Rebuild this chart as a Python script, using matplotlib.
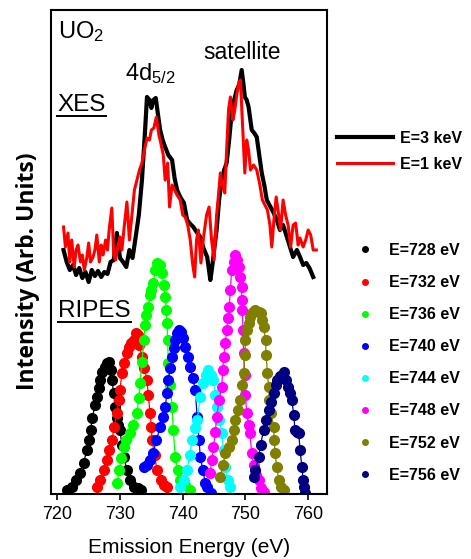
import numpy as np
import matplotlib.pyplot as plt
from matplotlib.lines import Line2D

plt.rcParams['font.family'] = 'Liberation Sans'
plt.rcParams['mathtext.fontset'] = 'custom'
plt.rcParams['mathtext.rm'] = 'Liberation Sans'
plt.rcParams['mathtext.it'] = 'Liberation Sans:italic'

##############################
# XES spectra (emission energy in eV, intensity in arb. units)
xes_e_3kev = [721.0, 721.5, 722.0, 722.5, 723.0, 723.5, 724.0, 724.5, 725.0, 725.5,
              726.0, 726.5, 727.0, 727.5, 728.0, 728.5, 729.0, 729.5, 730.0, 730.5,
              731.0, 731.5, 732.0, 732.5, 733.0, 733.5, 734.0, 734.3, 734.7, 735.0,
              735.3, 735.7, 736.0, 736.4, 736.8, 737.2, 737.7, 738.3, 738.7, 739.1,
              739.6, 740.2, 740.7, 741.2, 741.7, 742.2, 742.8, 743.3, 743.9, 744.4,
              744.7, 745.0, 745.4, 745.8, 746.2, 746.6, 747.0, 747.4, 747.8, 748.2,
              748.6, 749.0, 749.4, 749.7, 749.9, 750.2, 750.5, 751.0, 751.4, 751.8,
              752.2, 752.6, 753.0, 753.4, 754.0, 754.5, 755.0, 755.5, 756.0, 756.6,
              757.0, 757.6, 758.2, 758.7, 759.2, 759.7, 760.2, 760.8]
xes_i_3kev = [244, 232, 224, 229, 219, 226, 216, 222, 212, 224,
              218, 223, 217, 222, 220, 232, 234, 261, 236, 232,
              227, 244, 236, 257, 279, 314, 364, 397, 394, 386,
              394, 396, 382, 364, 354, 347, 339, 334, 316, 304,
              297, 291, 274, 270, 267, 262, 257, 246, 237, 214,
              227, 244, 264, 294, 314, 324, 331, 354, 381, 394,
              404, 409, 424, 409, 397, 394, 387, 364, 361, 357,
              339, 321, 309, 294, 287, 281, 274, 264, 269, 257,
              249, 237, 244, 237, 229, 231, 226, 217]

xes_e_1kev = [721.0, 721.3, 721.7, 722.0, 722.3, 722.7, 723.0, 723.3, 723.7, 724.0,
              724.3, 724.7, 725.0, 725.3, 725.7, 726.0, 726.3, 726.7, 727.0, 727.3,
              727.7, 728.0, 728.3, 728.7, 729.0, 729.3, 729.7, 730.0, 730.3, 730.7,
              731.1, 731.5, 731.9, 732.3, 732.7, 733.1, 733.5, 733.9, 734.3, 734.7,
              735.0, 735.4, 735.8, 736.2, 736.5, 736.9, 737.2, 737.6, 737.9, 738.3,
              738.7, 739.1, 739.6, 740.0, 740.4, 740.8, 741.2, 741.6, 741.9, 742.2,
              742.5, 742.9, 743.3, 743.8, 744.2, 744.6, 745.0, 745.4, 745.7, 746.0,
              746.3, 746.7, 747.0, 747.3, 747.6, 748.0, 748.3, 748.6, 748.9, 749.2,
              749.5, 749.9, 750.2, 750.5, 750.8, 751.3, 751.8, 752.3, 752.7, 753.1,
              753.5, 753.9, 754.2, 754.6, 754.9, 755.3, 755.6, 756.0, 756.4, 756.8,
              757.2, 757.6, 758.0, 758.4, 758.7, 759.2, 759.6, 760.0, 760.4, 760.8,
              761.3]
xes_i_1kev = [267, 247, 261, 232, 254, 227, 244, 249, 232, 239,
              224, 236, 251, 232, 237, 244, 259, 232, 249, 239,
              254, 244, 266, 286, 239, 234, 249, 257, 244, 269,
              292, 254, 279, 304, 314, 324, 331, 344, 356, 354,
              364, 366, 377, 359, 351, 339, 314, 331, 287, 309,
              304, 299, 294, 279, 277, 269, 254, 229, 217, 254,
              264, 231, 256, 279, 287, 254, 234, 279, 299, 321,
              309, 301, 344, 384, 397, 374, 384, 399, 411, 414,
              374, 321, 354, 344, 324, 329, 324, 309, 294, 289,
              284, 269, 247, 279, 297, 279, 264, 294, 279, 269,
              247, 269, 271, 249, 256, 247, 254, 264, 259, 244,
              244]

# RIPES spectra, one per incident energy
ripes_labels = ['E=728 eV', 'E=732 eV', 'E=736 eV', 'E=740 eV',
                'E=744 eV', 'E=748 eV', 'E=752 eV', 'E=756 eV']
ripes_colors = ['#000000', '#ff0000', '#00ff00', '#0000ff',
                '#00ffff', '#ff00ff', '#808000', '#000080']

ripes_e_728 = [721.5, 722.3, 723.0, 723.6, 724.2, 724.7, 725.0, 725.3, 725.6, 726.0, 726.3,
               726.6, 726.8, 727.2, 727.6, 727.9, 728.2, 728.5, 728.7, 729.0, 729.2, 729.5,
               729.7, 730.0, 730.3, 730.6, 731.1, 731.6, 732.2, 732.8, 733.4]
ripes_i_728 = [4, 7, 14, 21, 31, 44, 54, 64, 76, 89, 97,
               106, 114, 122, 127, 131, 132, 124, 114, 101, 87, 76,
               69, 64, 49, 37, 24, 14, 7, 6, 4]

ripes_e_732 = [726.3, 726.8, 727.4, 727.9, 728.3, 728.7, 729.1, 729.5, 729.8, 730.0, 730.3,
               730.7, 731.1, 731.5, 731.8, 732.2, 732.5, 732.8, 733.1, 733.5, 733.9, 734.3,
               734.5, 734.8, 735.0, 735.1, 735.5, 735.9, 736.5, 737.0, 737.5]
ripes_i_732 = [7, 14, 24, 34, 44, 54, 67, 81, 94, 104, 121,
               131, 141, 147, 151, 154, 161, 159, 149, 137, 126, 114,
               99, 81, 67, 54, 39, 24, 14, 9, 7]

ripes_e_736 = [729.5, 729.9, 730.2, 730.6, 731.0, 731.6, 732.1, 732.7, 733.0, 733.2, 733.5,
               733.8, 734.0, 734.2, 734.5, 734.8, 735.0, 735.3, 735.6, 735.9, 736.3, 736.7,
               737.0, 737.2, 737.4, 737.5, 737.6, 737.7, 738.0, 738.3, 738.5, 738.8,
               739.2, 739.6, 740.3, 741.2]
ripes_i_736 = [11, 24, 36, 47, 54, 61, 69, 81, 96, 111, 132,
               154, 169, 179, 187, 199, 204, 211, 224, 231, 229, 221,
               209, 197, 184, 171, 154, 131, 109, 87, 64, 37,
               24, 14, 9, 4]

ripes_e_740 = [733.8, 734.3, 734.8, 735.3, 735.8, 736.4, 736.8, 737.2, 737.5, 737.7, 738.0,
               738.3, 738.6, 738.8, 739.1, 739.4, 739.7, 740.0, 740.4, 740.8, 741.2, 741.6,
               742.0, 742.3, 742.6, 742.8, 743.2, 743.6, 743.9, 744.5]
ripes_i_740 = [27, 29, 34, 41, 54, 67, 77, 87, 101, 114, 126,
               137, 146, 154, 161, 164, 162, 156, 147, 137, 127, 116,
               104, 77, 54, 37, 24, 11, 7, 1]

ripes_e_744 = [739.6, 740.2, 740.7, 741.1, 741.5, 741.9, 742.3, 742.8, 743.3, 743.7, 744.1,
               744.5, 744.9, 745.2, 745.4, 745.8, 746.2, 746.5, 746.8, 747.2, 747.6]
ripes_i_744 = [7, 14, 24, 39, 54, 66, 74, 97, 111, 119, 124,
               119, 114, 99, 87, 74, 61, 44, 27, 14, 7]

ripes_e_748 = [744.4, 744.6, 744.9, 745.2, 745.4, 745.8, 746.2, 746.4, 746.5, 746.8, 747.0,
               747.2, 747.4, 747.6, 747.8, 748.1, 748.4, 748.7, 748.9, 749.2, 749.4, 749.4,
               749.5, 749.6, 749.7, 749.9, 750.0, 750.2, 750.5, 750.7, 751.0, 751.3,
               751.7, 752.1, 752.5, 753.0]
ripes_i_748 = [21, 34, 47, 62, 77, 94, 107, 124, 137, 151, 164,
               176, 187, 204, 224, 232, 239, 234, 227, 217, 207, 194,
               184, 164, 141, 119, 99, 81, 69, 61, 41, 29,
               19, 14, 6, 2]

ripes_e_752 = [746.0, 746.4, 746.8, 747.3, 747.8, 748.1, 748.4, 748.8, 749.2, 749.5, 749.7,
               749.9, 750.0, 750.3, 750.5, 750.8, 751.0, 751.3, 751.6, 752.1, 752.4, 752.7,
               752.9, 753.2, 753.3, 753.5, 753.7, 753.8, 754.1, 754.5, 754.6, 754.7,
               755.0, 755.3, 755.7, 756.1]
ripes_i_752 = [17, 29, 41, 47, 54, 64, 74, 84, 94, 109, 121,
               139, 154, 164, 171, 177, 181, 183, 184, 182, 181, 174,
               167, 154, 139, 121, 107, 94, 81, 67, 54, 41,
               27, 14, 7, 4]

ripes_e_756 = [751.3, 751.6, 752.1, 752.4, 752.9, 753.3, 753.7, 754.0, 754.5, 754.8, 755.0,
               755.5, 756.1, 756.5, 756.8, 757.1, 757.4, 757.7, 757.9, 758.2, 758.5, 758.7,
               759.0, 759.2, 759.3, 759.5]
ripes_i_756 = [17, 24, 37, 49, 64, 74, 84, 92, 101, 109, 114,
               118, 122, 114, 107, 101, 94, 79, 64, 62, 61, 44,
               27, 14, 7, 1]

ripes_e = [ripes_e_728, ripes_e_732, ripes_e_736, ripes_e_740,
           ripes_e_744, ripes_e_748, ripes_e_752, ripes_e_756]
ripes_i = [ripes_i_728, ripes_i_732, ripes_i_736, ripes_i_740,
           ripes_i_744, ripes_i_748, ripes_i_752, ripes_i_756]

##############################
fig = plt.figure(figsize=(4.71, 5.59), dpi=100)
ax = fig.add_axes([51/471, 65/559, 276/471, 484/559])

l3, = ax.plot(xes_e_3kev, xes_i_3kev, color='black', lw=3, label='E=3 keV')
l1, = ax.plot(xes_e_1kev, xes_i_1kev, color='red', lw=2.2, label='E=1 keV')

for e, i, c in zip(ripes_e, ripes_i, ripes_colors):
    ax.plot(e, i, '-o', color=c, mec=c, ms=7, lw=0.9)

ax.set_xlim(719, 763)
ax.set_ylim(0, 484)
ax.set_xticks(np.arange(720, 761, 10))
ax.set_yticks([])
for s in ax.spines.values():
    s.set_linewidth(1.5)
ax.tick_params(axis='x', direction='out', length=4.5, width=1.2, labelsize=13, pad=4)
ax.set_xlabel('Emission Energy (eV)', fontsize=15, labelpad=11)
ax.set_ylabel('Intensity (Arb. Units)', fontsize=16.5, fontweight='bold', family='Open Sans')
ax.yaxis.set_label_coords(-0.04, 0.46)

# annotations
ax.text(0.025, 0.9415, 'UO$_2$', fontsize=17, transform=ax.transAxes, va='baseline')
ax.text(0.268, 0.855, '4d$_{5/2}$', fontsize=17, transform=ax.transAxes, va='baseline')
ax.text(0.551, 0.898, 'satellite', fontsize=16.5, transform=ax.transAxes, va='baseline')
t_xes = ax.text(0.023, 0.791, 'XES', fontsize=17.5, transform=ax.transAxes, va='baseline')
t_ripes = ax.text(0.026, 0.365, 'RIPES', fontsize=17.5, transform=ax.transAxes, va='baseline')

# legends
prop = {'family': 'Liberation Sans', 'weight': 'bold', 'size': 11.5}
leg1 = ax.legend(handles=[l3, l1], loc='upper left', bbox_to_anchor=(337/471, 1 - 131/559),
                 bbox_transform=fig.transFigure, frameon=False, prop=prop,
                 handlelength=3.5, handletextpad=0.44, labelspacing=0.68,
                 borderpad=0, borderaxespad=0)
ax.add_artist(leg1)
proxies = [Line2D([], [], ls='none', marker='o', color=c, ms=4) for c in ripes_colors]
leg2 = ax.legend(handles=proxies, labels=ripes_labels, loc='upper left',
                 bbox_to_anchor=(357/471, 1 - 243/559), bbox_transform=fig.transFigure,
                 frameon=False, prop=prop, handlelength=1.0, handletextpad=1.0,
                 labelspacing=1.07, borderpad=0, borderaxespad=0)

# underline XES and RIPES
fig.canvas.draw()
for t in [t_xes, t_ripes]:
    bb = t.get_window_extent().transformed(fig.transFigure.inverted())
    fig.add_artist(Line2D([bb.x0, bb.x1], [bb.y0, bb.y0], color='black', lw=1.4,
                          transform=fig.transFigure))

fig.savefig('out.png', dpi=100)
